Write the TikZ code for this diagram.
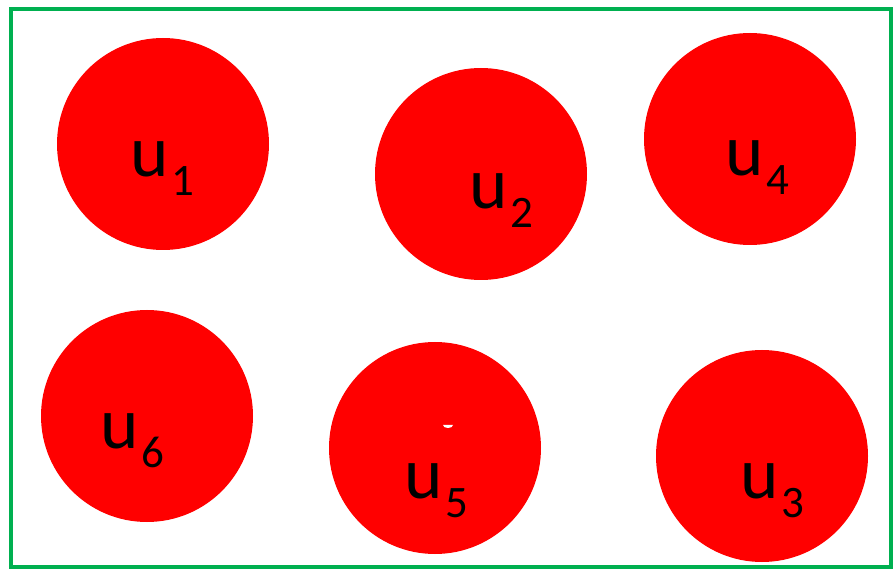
\documentclass[tikz,border=0pt]{standalone}
\usepackage{fontspec}
\setmainfont{Carlito}
\definecolor{brdgreen}{RGB}{0,176,80}
\definecolor{ballred}{RGB}{255,0,0}
\newcommand{\ulbl}[1]{\fontsize{73}{73}\selectfont u\hspace{3pt}\raisebox{-19pt}{\fontsize{45}{45}\selectfont #1}}
\begin{document}
\begin{tikzpicture}[x=1pt,y=-1pt,
  ball/.style={circle,fill=ballred,minimum size=212pt,inner sep=0pt},
  lbl/.style={inner sep=0pt,anchor=base west}]
\useasboundingbox (0,0) rectangle (895,569);
\draw[brdgreen,line width=4pt] (10.5,9.5) rectangle (891,567);
\node[ball] (b1) at (163,144) {};
\node[ball] (b2) at (481,174) {};
\node[ball] (b4) at (750,139) {};
\node[ball] (b6) at (147,416) {};
\node[ball] (b5) at (435,448) {};
\node[ball] (b3) at (762,456) {};
\fill[white] (443,425) arc[start angle=180,end angle=0,x radius=5,y radius=3] -- cycle;
\node[lbl] (l1) at (130,177) {\ulbl{1}};
\node[lbl] (l2) at (469,209) {\ulbl{2}};
\node[lbl] (l4) at (725,176) {\ulbl{4}};
\node[lbl] (l6) at (100,449) {\ulbl{6}};
\node[lbl] (l5) at (404,498) {\ulbl{5}};
\node[lbl] (l3) at (740,498) {\ulbl{3}};
\end{tikzpicture}
\end{document}
